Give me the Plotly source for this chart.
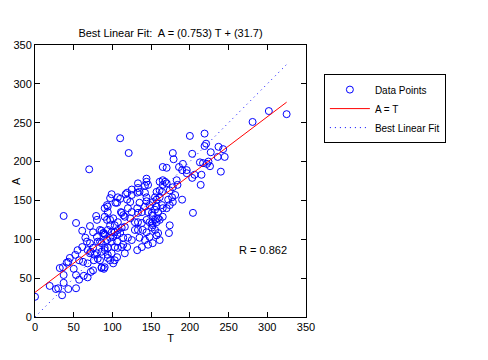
import plotly.graph_objects as go

# Targets (T) and network outputs (A)
T = [0, 19, 27, 30, 35, 43, 53, 37, 37, 36, 41, 32, 37, 53, 61, 71, 70, 79, 80, 86,
     89, 94, 94, 93, 99, 104, 110, 117, 119, 112, 67, 61, 55, 52, 45, 43, 50, 53, 57, 63,
     68, 72, 75, 86, 89, 76, 81, 72, 77, 86, 90, 94, 97, 57, 62, 68, 71, 68, 80, 84,
     86, 110, 121, 132, 84, 88, 84, 90, 90, 94, 99, 103, 107, 112, 116, 110, 106, 101, 97, 93,
     99, 106, 114, 120, 125, 119, 112, 103, 94, 90, 99, 106, 94, 103, 90, 80, 81, 86, 71, 75,
     101, 107, 114, 116, 144, 146, 142, 144, 161, 165, 133, 135, 132, 107, 106, 119, 125, 123, 142, 144,
     144, 90, 97, 111, 114, 120, 116, 125, 132, 135, 142, 148, 152, 157, 161, 133, 138, 146, 151, 155,
     159, 164, 165, 129, 133, 138, 144, 148, 152, 157, 161, 165, 129, 133, 139, 144, 151, 155, 159, 200,
     219, 219, 221, 237, 243, 245, 227, 224, 226, 236, 203, 178, 179, 170, 186, 191, 190, 196, 196, 213,
     217, 222, 215, 206, 203, 214, 168, 165, 170, 161, 157, 164, 155, 183, 184, 178, 174, 181, 177, 190,
     172, 178, 174, 170, 157, 152, 155, 151, 159, 204, 174, 173, 302, 325, 281, 240, 135, 142, 148, 146,
     152, 138, 161, 157, 123, 107, 101, 97, 103, 65, 75, 93, 97, 125, 133, 165]
A = [26, 40, 36, 37, 28, 36, 37, 44, 54, 64, 70, 63, 130, 121, 111, 117, 190, 130, 125, 111,
     108, 142, 135, 125, 158, 147, 152, 158, 151, 134, 97, 90, 86, 80, 76, 71, 62, 54, 48, 53,
     51, 58, 60, 63, 62, 73, 75, 84, 80, 84, 89, 80, 73, 73, 71, 69, 82, 86, 82, 73,
     64, 230, 211, 86, 112, 108, 97, 129, 106, 112, 109, 109, 112, 115, 116, 108, 106, 103, 102, 99,
     97, 97, 102, 102, 99, 90, 90, 90, 89, 86, 82, 77, 76, 73, 64, 103, 97, 95, 95, 89,
     69, 89, 93, 82, 174, 170, 169, 178, 174, 176, 166, 161, 160, 154, 147, 160, 157, 148, 160, 154,
     149, 140, 125, 135, 131, 140, 129, 135, 140, 147, 142, 144, 148, 151, 154, 134, 135, 135, 134, 138,
     135, 144, 140, 122, 122, 121, 125, 122, 118, 122, 125, 129, 112, 112, 112, 109, 115, 112, 108, 233,
     236, 220, 223, 219, 216, 206, 212, 200, 194, 206, 210, 211, 203, 192, 193, 197, 189, 189, 185, 199,
     198, 197, 183, 183, 179, 170, 174, 170, 172, 163, 161, 161, 154, 176, 170, 167, 163, 157, 154, 151,
     151, 148, 144, 140, 142, 131, 125, 121, 127, 134, 118, 108, 265, 261, 251, 187, 102, 99, 103, 93,
     95, 90, 99, 105, 127, 122, 127, 118, 118, 102, 109, 144, 153, 164, 172, 193]

slope = 0.753
intercept = 31.7
R_value = 0.862
t_min, t_max = min(T), max(T)
fit_x = [t_min, t_max]
fit_y = [slope * v + intercept for v in fit_x]
ident_x = [t_min, t_max]
ident_y = [t_min, t_max]

x_ticks = [0, 50, 100, 150, 200, 250, 300, 350]
y_ticks = [0, 50, 100, 150, 200, 250, 300, 350]

font = dict(family="Liberation Sans, Arial, sans-serif", size=11, color="black")

fig = go.Figure()
fig.add_trace(go.Scatter(x=T, y=A, mode="markers", name="Data Points",
                         marker=dict(symbol="circle-open", size=7, color="#0000ff",
                                     line=dict(width=1, color="#0000ff"))))
fig.add_trace(go.Scatter(x=fit_x, y=fit_y, mode="lines", name="A = T",
                         line=dict(color="#ff0000", width=1)))
fig.add_trace(go.Scatter(x=ident_x, y=ident_y, mode="lines", name="Best Linear Fit",
                         line=dict(color="#0000ff", width=1, dash="1px,4px")))

axis_common = dict(showline=True, linecolor="black", linewidth=1, mirror="allticks",
                   ticks="inside", ticklen=5, tickcolor="black", showgrid=False,
                   zeroline=False, tickfont=font, automargin=False)
fig.update_xaxes(range=[0, 350], tickvals=x_ticks, title=dict(text="T", font=font, standoff=2),
                 **axis_common)
fig.update_yaxes(range=[0, 350], tickvals=y_ticks, **axis_common)

# y-axis title placed at the far left edge, as in the reference
fig.add_annotation(x=-27 / 271, y=0.5, xref="paper", yref="paper", text="A",
                   textangle=-90, showarrow=False, xanchor="left", yanchor="middle", font=font)

fig.add_annotation(x=261, y=86, xref="x", yref="y", text="R = " + str(R_value),
                   showarrow=False, xanchor="left", yanchor="middle", font=font)

# page body has an 8px margin, so the figure is 8px smaller and offsets are compensated
fig.update_layout(
    width=480, height=352,
    margin=dict(l=27, r=182, t=37, b=43, autoexpand=False),
    paper_bgcolor="white", plot_bgcolor="white",
    font=font,
    title=dict(text="Best Linear Fit:  A = (0.753) T + (31.7)", x=(27 + 298) / 2 / 480,
               xanchor="center", y=1 - 25 / 352, yanchor="middle", font=font),
    showlegend=True,
    legend=dict(x=1.066, y=0.893, xanchor="left", yanchor="top",
                bordercolor="black", borderwidth=1, bgcolor="white",
                font=dict(family="Liberation Sans, Arial, sans-serif", size=10, color="black"),
                itemwidth=40, tracegroupgap=0),
)

fig.write_html("out.html")
